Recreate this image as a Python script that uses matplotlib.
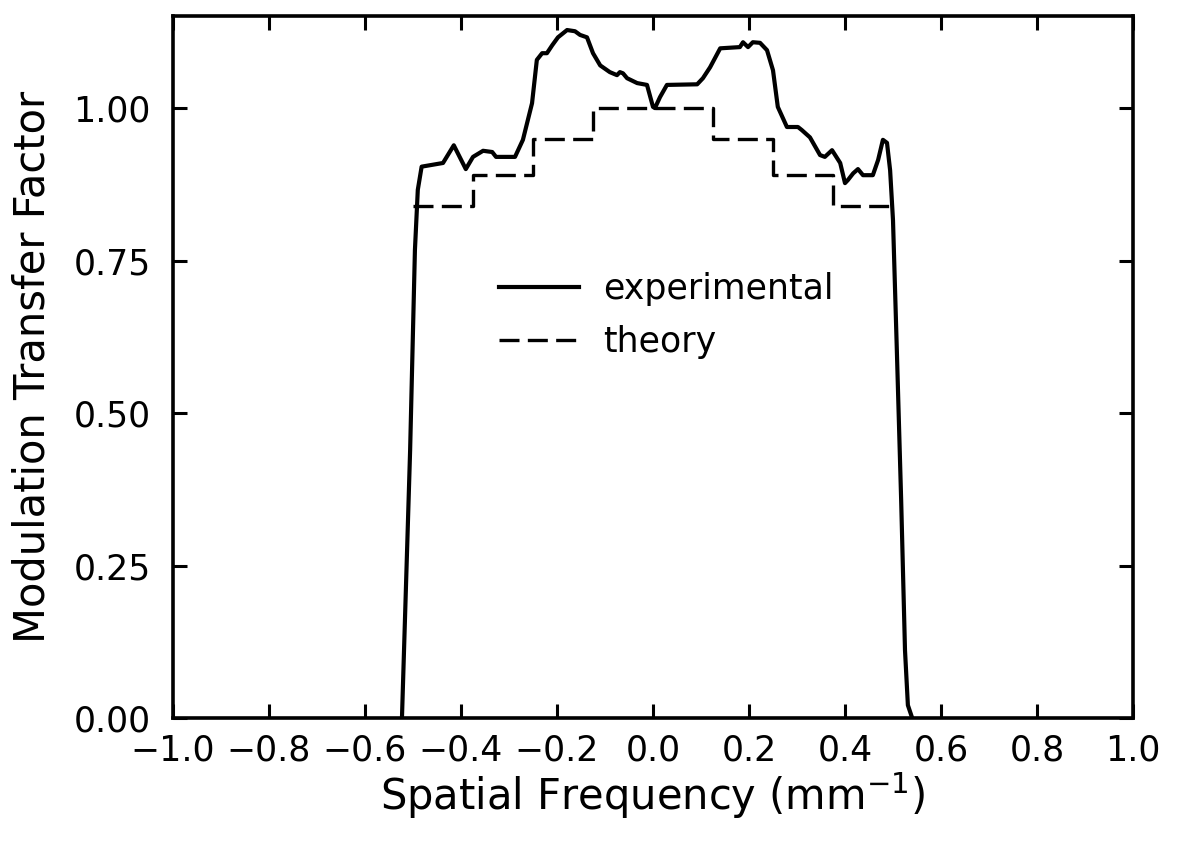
import matplotlib
matplotlib.use("Agg")
import matplotlib.pyplot as plt
import numpy as np

# Experimental MTF
exp_x = [-0.523, -0.506, -0.496, -0.490, -0.482, -0.4375, -0.415, -0.390, -0.375, -0.354,
         -0.335, -0.327, -0.2875, -0.271, -0.252, -0.242, -0.231, -0.221, -0.210, -0.198,
         -0.179, -0.1625, -0.152, -0.1375, -0.125, -0.110, -0.090, -0.075, -0.069, -0.0625,
         -0.054, -0.033, -0.0125, 0.0, 0.004, 0.0146, 0.029, 0.092, 0.104, 0.119,
         0.140, 0.181, 0.1875, 0.198, 0.208, 0.223, 0.2375, 0.25, 0.260, 0.279,
         0.302, 0.310, 0.327, 0.348, 0.358, 0.373, 0.390, 0.400, 0.406, 0.417,
         0.427, 0.4375, 0.458, 0.469, 0.479, 0.4875, 0.494, 0.500, 0.508, 0.517,
         0.525, 0.531, 0.540]
exp_y = [0.0, 0.439, 0.767, 0.866, 0.904, 0.910, 0.939, 0.900, 0.920, 0.930,
         0.928, 0.920, 0.920, 0.948, 1.008, 1.079, 1.090, 1.090, 1.103, 1.116,
         1.128, 1.126, 1.120, 1.116, 1.090, 1.070, 1.059, 1.054, 1.059, 1.057,
         1.049, 1.041, 1.038, 1.002, 1.000, 1.018, 1.038, 1.039, 1.049, 1.067,
         1.098, 1.100, 1.108, 1.100, 1.108, 1.107, 1.095, 1.062, 1.002, 0.969,
         0.969, 0.964, 0.952, 0.923, 0.920, 0.931, 0.910, 0.877, 0.882, 0.893,
         0.900, 0.890, 0.890, 0.915, 0.948, 0.943, 0.898, 0.816, 0.603, 0.357,
         0.111, 0.021, 0.0]

# Theory: step edges and levels
theory_edges = [-0.5, -0.375, -0.25, -0.125, 0.125, 0.25, 0.375, 0.5]
theory_levels = [0.84, 0.89, 0.95, 1.00, 0.95, 0.89, 0.84]

xticks = [-1.0, -0.8, -0.6, -0.4, -0.2, 0.0, 0.2, 0.4, 0.6, 0.8, 1.0]
yticks = [0.0, 0.25, 0.50, 0.75, 1.00]

plt.rcParams['font.family'] = ['DejaVu Sans']
plt.rcParams['mathtext.default'] = 'regular'

fig = plt.figure(figsize=(11.77, 8.42), dpi=100)
ax = fig.add_axes([173/1177, 1 - 718/842, 960/1177, 702/842])

ax.plot(exp_x, exp_y, color='black', lw=3.0, solid_joinstyle='round', label='experimental')

tx = []
ty = []
for i, lev in enumerate(theory_levels):
    tx += [theory_edges[i], theory_edges[i + 1]]
    ty += [lev, lev]
ax.plot(tx, ty, color='black', lw=2.4, linestyle=(0, (6, 2.5)), label='theory')

ax.set_xlim(-1.0, 1.0)
ax.set_ylim(0, 1.151)
ax.set_xticks(xticks)
ax.set_xticklabels([f"{v:.1f}".replace('-', '\u2212') for v in xticks])
ax.set_yticks(yticks)
ax.set_yticklabels([f"{v:.2f}" for v in yticks])

ax.tick_params(direction='in', top=True, right=True, length=10, width=2.2,
               labelsize=25)
ax.tick_params(axis='x', pad=11)
ax.tick_params(axis='y', pad=16)
for s in ax.spines.values():
    s.set_linewidth(2.6)

ax.set_xlabel('Spatial Frequency (mm$^{-1}$)', fontsize=30, labelpad=2)
ax.set_ylabel('Modulation Transfer Factor', fontsize=30, labelpad=14)

leg = ax.legend(loc='upper left', bbox_to_anchor=(0.325, 0.655), frameon=False,
                fontsize=25, handlelength=2.3, handletextpad=0.7, labelspacing=0.55,
                borderaxespad=0)

fig.savefig('out.png', dpi=100)
